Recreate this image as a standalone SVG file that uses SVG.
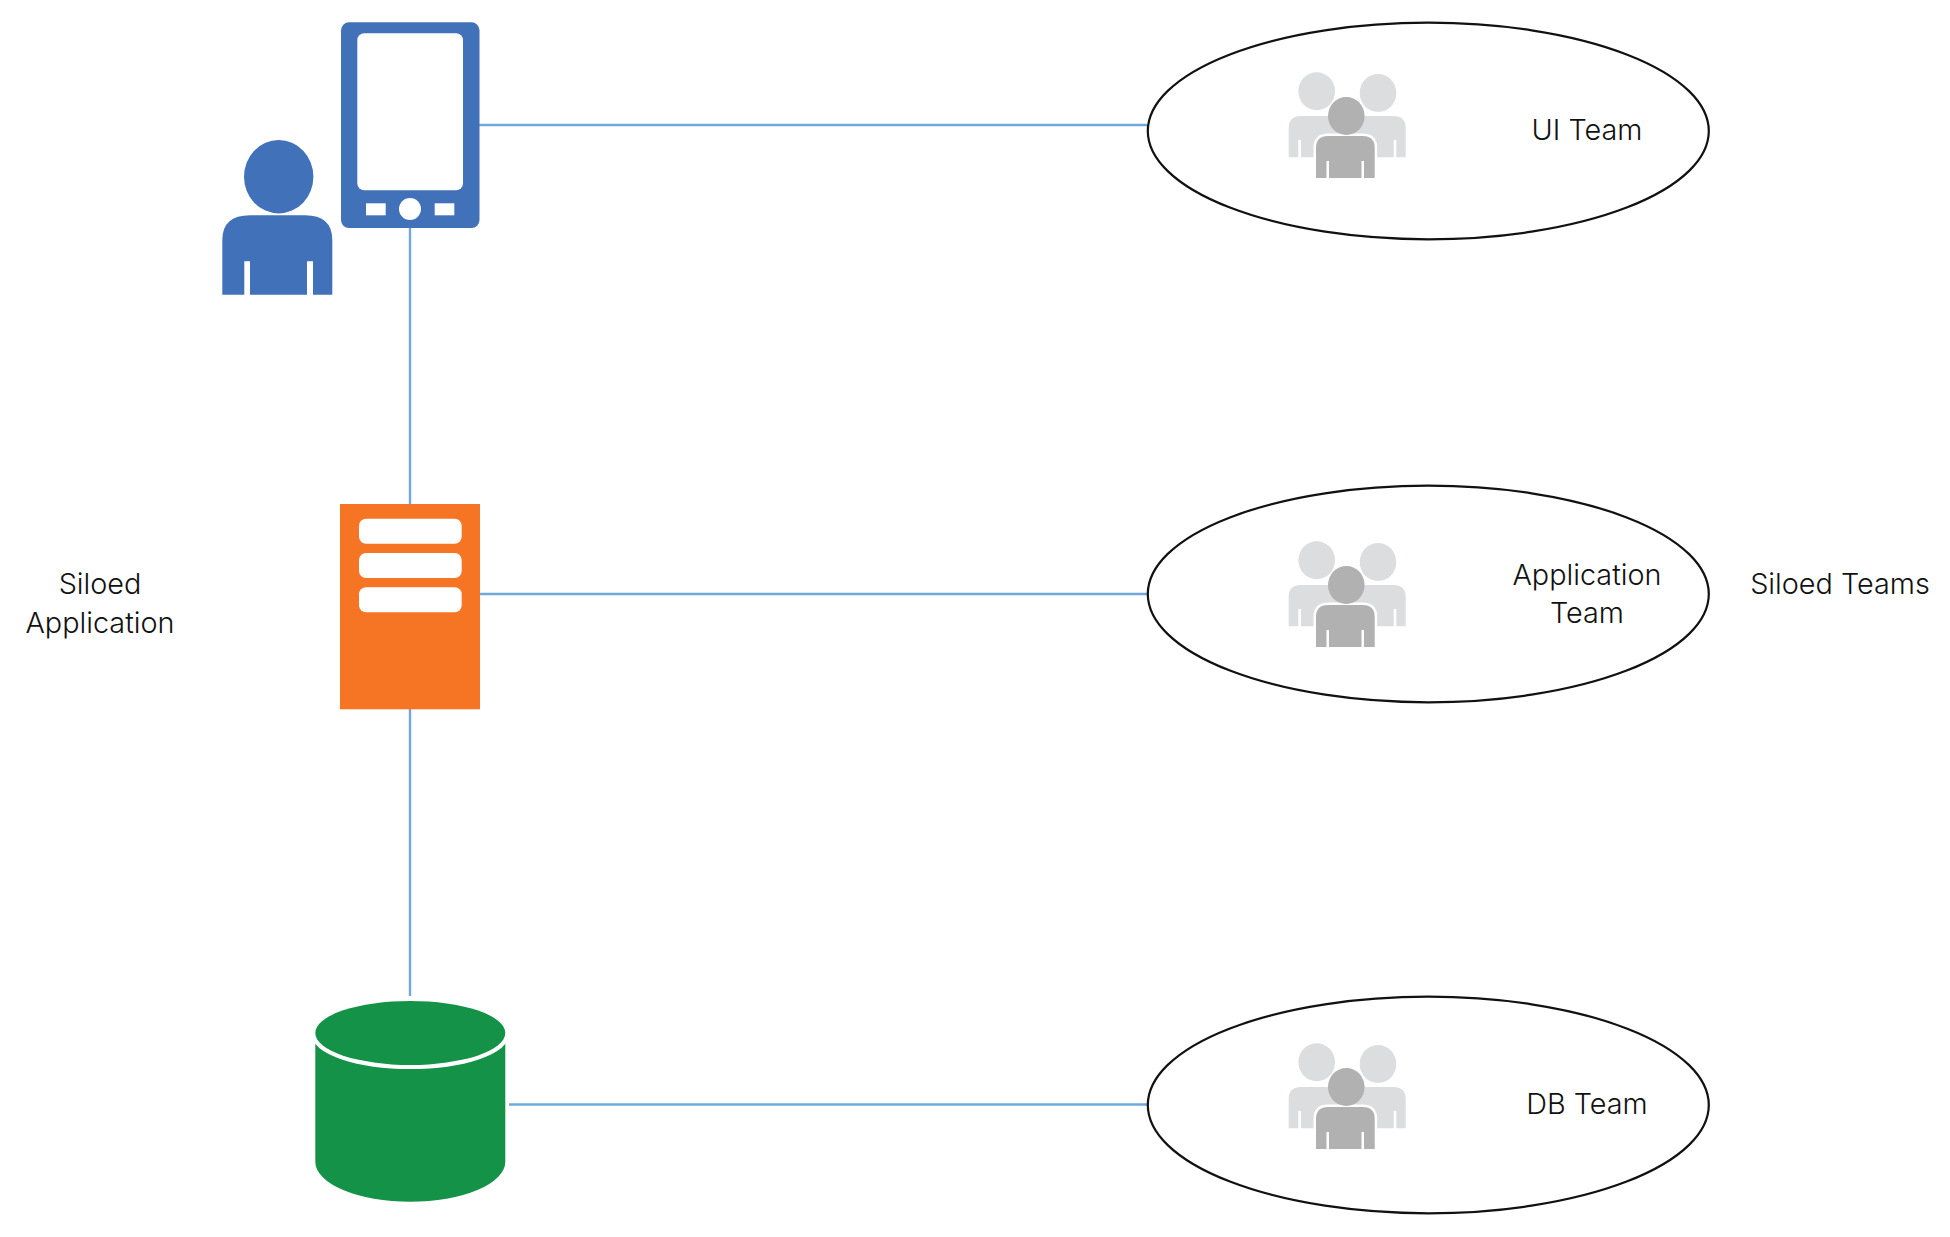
<svg xmlns="http://www.w3.org/2000/svg" width="1950" height="1237" viewBox="0 0 1950 1237">
<style>
.conn{stroke:#6fa8dc;stroke-width:2.4;fill:none}
.team{fill:#fff;stroke:#111;stroke-width:2.2}
.lbl{font-family:"Inter","Liberation Sans",Arial,sans-serif;font-weight:300;font-size:28.8px;fill:#111;text-anchor:middle}
.blue{fill:#4171b9}
.w{fill:#fff}
.back{fill:#dcddde}
.front{fill:#b1b1b1}
</style>
<defs>
<g id="people">
<ellipse class="back" cx="1316.7" cy="91.3" rx="18.3" ry="19"/>
<ellipse class="back" cx="1378" cy="93" rx="18.3" ry="19"/>
<path class="back" d="M1288.7 157.3V128Q1288.7 116 1301 116H1393.4Q1405.7 116 1405.7 128V157.3H1396.3V140H1393.7V157.3H1301V140H1298.3V157.3Z"/>
<path class="front" stroke="#fff" stroke-width="5" paint-order="stroke" d="M1316 178V148Q1316 136 1328 136H1362.7Q1374.7 136 1374.7 148V178H1364V161H1361.5V178H1329V161H1326.5V178Z"/>
<ellipse class="front" cx="1346.3" cy="116" rx="18.3" ry="19"/>
</g>
</defs>
<g id="connectors">
<line class="conn" x1="479" y1="125" x2="1147" y2="125"/>
<line class="conn" x1="410" y1="228" x2="410" y2="504"/>
<line class="conn" x1="480" y1="594" x2="1147" y2="594"/>
<line class="conn" x1="410" y1="709" x2="410" y2="996"/>
<line class="conn" x1="509" y1="1104.5" x2="1147" y2="1104.5"/>
</g>
<g id="user">
<ellipse class="blue" cx="278.7" cy="176.7" rx="34.7" ry="36.7"/>
<path class="blue" d="M222.3 294.7V240Q222.3 215.3 250 215.3H305Q332.3 215.3 332.3 240V294.7H313V261.3H307V294.7H250V261.3H244.3V294.7Z"/>
</g>
<g id="tablet">
<rect class="blue" x="341" y="22.3" width="138.5" height="205.7" rx="8"/>
<rect class="w" x="357.3" y="33.3" width="105.7" height="157" rx="7"/>
<rect class="w" x="366" y="203.3" width="19.7" height="12"/>
<circle class="w" cx="410" cy="209" r="11"/>
<rect class="w" x="434.7" y="203.3" width="19.6" height="12"/>
</g>
<g id="server">
<rect x="340" y="504" width="140" height="205.3" fill="#f67524"/>
<rect class="w" x="359" y="518.7" width="102.7" height="25" rx="7"/>
<rect class="w" x="359" y="553" width="102.7" height="25" rx="7"/>
<rect class="w" x="359" y="587.3" width="102.7" height="25" rx="7"/>
</g>
<g id="database">
<path fill="#149247" d="M315.3 1033H505.3V1161.7A95 40 0 0 1 315.3 1161.7Z"/>
<ellipse cx="410.3" cy="1033" rx="95" ry="32" fill="#149247" stroke="#fff" stroke-width="8" paint-order="stroke"/>
</g>
<g id="ui-team">
<ellipse class="team" cx="1428.3" cy="131" rx="280.5" ry="108.3"/>
<use href="#people"/>
<text class="lbl" x="1587" y="140">UI Team</text>
</g>
<g id="app-team">
<ellipse class="team" cx="1428.3" cy="594" rx="280.5" ry="108.3"/>
<use href="#people" y="469"/>
<text class="lbl" x="1587" y="585">Application</text>
<text class="lbl" x="1587" y="623.3">Team</text>
</g>
<g id="db-team">
<ellipse class="team" cx="1428.3" cy="1105" rx="280.5" ry="108.3"/>
<use href="#people" y="971"/>
<text class="lbl" x="1587" y="1114.3">DB Team</text>
</g>
<g id="siloed-teams"><text class="lbl" x="1840" y="594">Siloed Teams</text></g>
<g id="siloed-application">
<text class="lbl" x="100" y="594.3">Siloed</text>
<text class="lbl" x="100" y="633">Application</text>
</g>
</svg>
